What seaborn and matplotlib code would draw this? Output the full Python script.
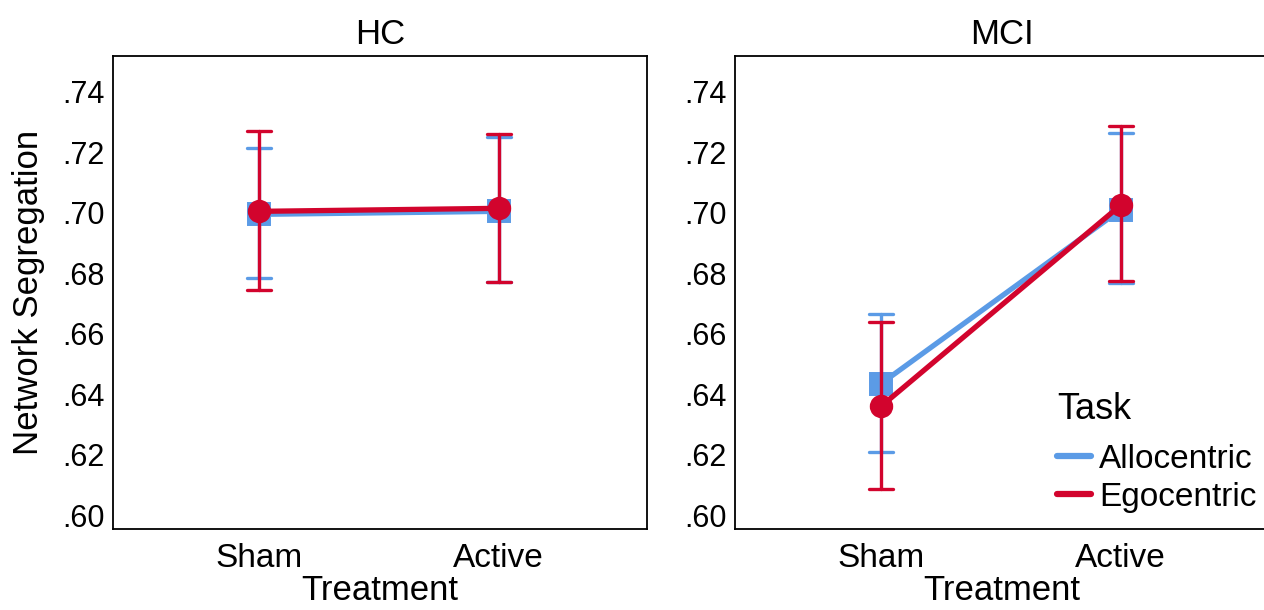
import seaborn as sns
import matplotlib.pyplot as plt
import pandas as pd
from matplotlib.lines import Line2D

# values: mean and lower/upper CI bound per cell
groups = ["HC", "MCI"]
treatments = ["Sham", "Active"]
tasks = ["Allocentric", "Egocentric"]

# order: (group, task) -> [Sham, Active]
means = {
    ("HC", "Allocentric"): [0.6995, 0.7005],
    ("HC", "Egocentric"): [0.7005, 0.7015],
    ("MCI", "Allocentric"): [0.6435, 0.7010],
    ("MCI", "Egocentric"): [0.6360, 0.7025],
}
ci_low = {
    ("HC", "Allocentric"): [0.6784, 0.6770],
    ("HC", "Egocentric"): [0.6744, 0.6770],
    ("MCI", "Allocentric"): [0.6208, 0.6768],
    ("MCI", "Egocentric"): [0.6085, 0.6774],
}
ci_high = {
    ("HC", "Allocentric"): [0.7215, 0.7251],
    ("HC", "Egocentric"): [0.7270, 0.7260],
    ("MCI", "Allocentric"): [0.6665, 0.7264],
    ("MCI", "Egocentric"): [0.6638, 0.7287],
}

colors = {"Allocentric": "#5B9BE6", "Egocentric": "#D2042D"}
markers = ["s", "o"]

# long table: low / mean / high per cell -> median = mean, 100% interval = CI
rows = []
for key in means:
    g, t = key
    for j, tr in enumerate(treatments):
        for v in (ci_low[key][j], means[key][j], ci_high[key][j]):
            rows.append({"Group": g, "Task": t, "Treatment": tr, "val": v})
df = pd.DataFrame(rows)

sns.set_style("white")
plt.rcParams["font.family"] = ["Liberation Sans", "DejaVu Sans"]
for k in ["text.color", "axes.labelcolor", "xtick.color", "ytick.color"]:
    plt.rcParams[k] = "black"

fig = plt.figure(figsize=(12.64, 6.10), dpi=100)
ax1 = fig.add_axes([113/1264, 1-529/610, 534/1264, 473/610])
ax2 = fig.add_axes([735/1264, 1-529/610, 534/1264, 473/610])

for ax, g in zip([ax1, ax2], groups):
    sns.pointplot(data=df[df.Group == g], x="Treatment", y="val", hue="Task",
                  order=treatments, hue_order=tasks, palette=colors,
                  estimator="median", errorbar=("pi", 100), dodge=False,
                  markers=markers, linestyles="-", capsize=0.1,
                  markersize=14, linewidth=3.8,
                  err_kws={"linewidth": 2.4}, ax=ax)
    ax.set_xlim(-0.61, 1.62)
    ax.set_ylim(0.5954, 0.7519)
    ax.set_yticks([0.60, 0.62, 0.64, 0.66, 0.68, 0.70, 0.72, 0.74])
    ax.set_yticklabels([".60", ".62", ".64", ".66", ".68", ".70", ".72", ".74"])
    ax.tick_params(axis="y", length=0, pad=6, labelsize=22)
    ax.tick_params(axis="x", length=0, pad=10, labelsize=24)
    ax.set_title(g, fontsize=25, pad=9)
    ax.set_xlabel("Treatment", fontsize=25, labelpad=0)
    ax.set_ylabel("")
    for s in ax.spines.values():
        s.set_visible(True)
        s.set_color("black")
        s.set_linewidth(1.3)
    ax.get_legend().remove()

ax1.set_ylabel("Network Segregation", fontsize=25, labelpad=12)

handles = [Line2D([], [], color=colors[t], linewidth=4.5) for t in tasks]
leg = ax2.legend(handles, tasks, title="Task", loc="lower right",
                 bbox_to_anchor=(1.02, -0.015), frameon=False, fontsize=24,
                 title_fontsize=26, handlelength=1.0, handletextpad=0.25,
                 labelspacing=0.2, borderaxespad=0.3)
leg._legend_box.align = "left"
leg._legend_box.sep = 12

plt.savefig("out.png", dpi=100)
